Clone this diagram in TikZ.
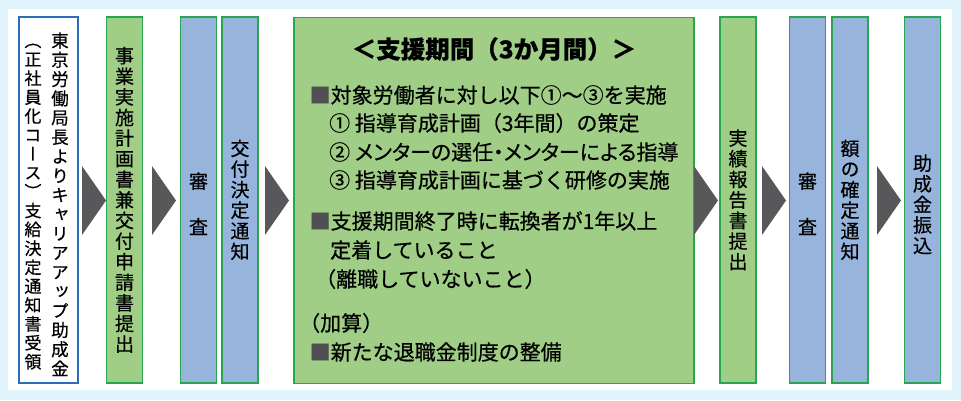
\documentclass[tikz,border=0pt]{standalone}
\usepackage{fontspec}
\newfontfamily\cjk[FakeBold=0.5]{Noto Sans CJK JP}
\newfontfamily\cjkp[FakeBold=0.5,RawFeature=+palt]{Noto Sans CJK JP}
\newfontfamily\cjkv[FakeBold=0.5,RawFeature=+vert]{Noto Sans CJK JP}

\definecolor{bgblue}{RGB}{225,243,251}
\definecolor{greenfill}{RGB}{160,206,134}
\definecolor{bluefill}{RGB}{150,180,220}
\definecolor{barline}{RGB}{40,165,80}
\definecolor{boxblue}{RGB}{40,110,185}
\definecolor{arrowgray}{RGB}{88,88,90}
\definecolor{sqgray}{RGB}{80,80,82}

% one character per line, for the upright columns
\ExplSyntaxOn
\NewDocumentCommand \tate { m }
  {
    \tl_clear:N \l_tmpa_tl
    \tl_map_inline:nn { #1 }
      {
        \tl_if_empty:NF \l_tmpa_tl { \tl_put_right:Nn \l_tmpa_tl { \\ } }
        \tl_put_right:Nn \l_tmpa_tl { \strut \smash { ##1 } }
      }
    \tl_use:N \l_tmpa_tl
  }
\ExplSyntaxOff
\newcommand\tatefont[2]{\cjkv\fontsize{#1}{#2}\selectfont}
\newcommand\sq{{\color{sqgray}■}}

\begin{document}
\begin{tikzpicture}[x=1pt, y=-1pt,
  bar/.style={draw=barline, line width=1.2pt, minimum width=36pt, minimum height=366pt, inner sep=0pt},
  greenbar/.style={bar, fill=greenfill},
  bluebar/.style={bar, fill=bluefill},
  column/.style={inner sep=0pt, align=center, yshift=-3pt, font=\tatefont{19}{20.6}},
  chevron/.style={fill=arrowgray},
  body/.style={inner sep=0pt, anchor=west, font=\cjk\fontsize{21}{24}\selectfont}]

\fill[bgblue] (0,0) rectangle (961,400);
\fill[white] (8,9) rectangle (952,390);

\node[bar, draw=boxblue, fill=white, minimum width=59pt] (receipt) at (48.5,200) {};
\node[column, yshift=0pt, font=\tatefont{17.5}{19.3}] (receiptR) at (60,204.3)
  {\tate{東京労働局長よりキャリアアップ助成金}};
\node[column, yshift=0pt, font=\tatefont{17}{18.9}] (receiptL) at (33,200.7)
  {\tate{（正社員化コース）支給決定通知書受領}};

\node[greenbar] (plan) at (124.5,200) {};
\node[column] at (plan.center) {\tate{事業実施計画書兼交付申請書提出}};
\node[bluebar] (check1) at (198.5,200) {};
\node[column, yshift=-4pt] at (check1.center) {\tate{審}\\[25pt]\tate{査}};
\node[bluebar] (grant) at (240,200) {};
\node[column] at (grant.center) {\tate{交付決定通知}};

\node[greenbar, minimum width=400pt] (support) at (494,200.5) {};
\node[inner sep=0pt, font=\cjk\bfseries\fontsize{24.5}{28}\selectfont] (title) at (494,49) {＜支援期間（3か月間）＞};
\node[body] (t1) at (309.5,95) {\sq 対象労働者に対し以下①～③を実施};
\node[body] (t2) at (329,123) {① 指導育成計画（3年間）の策定};
\node[body, font=\cjkp\fontsize{21}{24}\selectfont] (t3) at (329,152) {② メンターの選任・メンターによる指導};
\node[body] (t4) at (329,180) {③ 指導育成計画に基づく研修の実施};
\node[body] (t5) at (309.5,221) {\sq 支援期間終了時に転換者が1年以上};
\node[body] (t6) at (330,250) {定着していること};
\node[body] (t7) at (315,279) {（離職していないこと）};
\node[body] (t8) at (299,323) {（加算）};
\node[body] (t9) at (309.5,352) {\sq 新たな退職金制度の整備};

\node[greenbar] (report) at (738,200) {};
\node[column] at (report.center) {\tate{実績報告書提出}};
\node[bluebar] (check2) at (807.5,200) {};
\node[column, yshift=-4pt] at (check2.center) {\tate{審}\\[25pt]\tate{査}};
\node[bluebar] (amount) at (850,200) {};
\node[column] at (amount.center) {\tate{額の確定通知}};
\node[bluebar] (payment) at (922.5,200) {};
\node[column, yshift=-4.5pt] at (payment.center) {\tate{助成金振込}};

\foreach \ax in {82,152,265,694,762,877}
  \fill[chevron] (\ax,166) -- (\ax+24,200.5) -- (\ax,235) -- cycle;

\end{tikzpicture}
\end{document}
